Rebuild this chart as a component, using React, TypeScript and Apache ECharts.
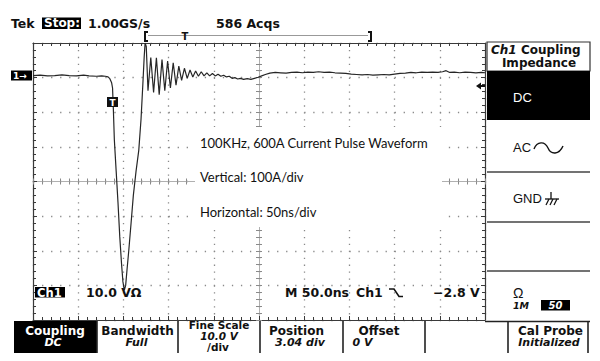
import React, { useEffect, useRef } from "react";
import * as echarts from "echarts";

// Time (ns from left edge of screen, 50 ns/div) and current (A, 100 A/div, screen centre = 0)
const timeNs = [
  0, 8, 16, 24, 32, 40, 48, 56, 62, 70, 76, 80, 83, 85, 87, 88, 89, 90, 92, 94, 96, 98, 99.5, 101,
  102.5, 104, 106, 108.5, 111, 114, 117, 119.5, 121.5, 123, 124, 125.3,
  127.2, 130.3, 133.4, 136.5, 139.6, 142.7, 145.8, 148.9, 152.0, 155.1, 158.2, 161.3, 164.4, 167.5,
  170.6, 173.7, 176.8, 179.9, 183.0, 186.1, 189.2, 192.3, 195.4, 198.5, 201.6, 204.7, 207.8, 210.9,
  214.0, 217.1, 220.2, 223.3, 226.4, 229.5, 233, 237, 241, 245, 249, 253, 257, 262, 268, 274, 280,
  286, 292, 298, 304, 310, 316, 322, 328, 334, 340, 346, 352, 358, 364, 370, 376, 382, 388, 394,
  400, 406, 412, 418, 424, 430, 436, 442, 448, 453, 457, 461, 466, 472, 478, 484, 490, 496, 500,
];
const currentA = [
  306, 307, 305, 306, 308, 306, 305, 307, 305, 304, 305, 304, 302, 297, 285, 270, 200, 120, 30, -60,
  -160, -240, -290, -314, -300, -255, -198, -120, -40, 30, 90, 180, 280, 360, 400, 390,
  262, 358, 257, 357, 251, 352, 262, 348, 270, 343, 278, 333, 292, 327,
  298, 322, 302, 319, 304, 317, 305, 314, 305, 312, 305, 310, 304, 307,
  302, 304, 298, 300, 296, 298, 295, 297, 295, 298, 301, 305, 309, 313, 315, 314, 313,
  315, 316, 314, 316, 315, 317, 315, 316, 314, 313, 312, 310, 309, 308, 309, 307, 308, 309, 308,
  310, 312, 313, 315, 314, 316, 315, 316, 315, 317, 320, 315, 316, 314, 316, 315, 314, 315, 314,
];

const headerTexts = ["Tek", "Stop:", "1.00GS/s", "586 Acqs"];
const noteTexts = ["100KHz, 600A Current Pulse Waveform", "Vertical: 100A/div", "Horizontal: 50ns/div"];
const statusTexts = ["Ch1", "10.0 VΩ", "M 50.0ns", "Ch1", "\u22122.8 V"];
const sideTexts = ["Ch1", "Coupling", "Impedance", "DC", "AC", "GND", "Ω", "1M", "50"];
const menuLabels = ["Coupling", "Bandwidth", "Fine Scale", "Position", "Offset", "", "Cal Probe"];
const menuValues = ["DC", "Full", "10.0 V", "3.04 div", "0 V", "", "Initialized"];

const DJ = '"DejaVu Sans", sans-serif';
const B13 = `bold 12.5px ${DJ}`;

function txt(text: string, x: number, y: number, font: string, fill = "#111", align = "left") {
  return {
    type: "text",
    x,
    y,
    z: 100,
    silent: true,
    style: { text, font, fill, textAlign: align, align, textVerticalAlign: "middle", verticalAlign: "middle" },
  };
}
function rect(x: number, y: number, w: number, h: number, fill = "#000", stroke?: string, z = 90) {
  return {
    type: "rect",
    z,
    shape: { x, y, width: w, height: h },
    style: stroke ? { fill, stroke, lineWidth: 1.2 } : { fill },
  };
}
function ln(x1: number, y1: number, x2: number, y2: number, color = "#222", w = 1.4) {
  return { type: "line", z: 95, shape: { x1, y1, x2, y2 }, style: { stroke: color, lineWidth: w } };
}
function pl(points: number[][], w = 1.6, color = "#111") {
  return { type: "polyline", z: 95, shape: { points }, style: { stroke: color, lineWidth: w, fill: null } };
}

const BORDER = "#3a3a3a";
const DOT = "#8a8a8a";

function xAx(extra: any) {
  return {
    type: "value",
    min: 0,
    max: 500,
    interval: 50,
    axisLabel: { show: false },
    splitLine: { show: false },
    axisLine: { show: true, onZero: false, lineStyle: { color: BORDER, width: 1.2 } },
    axisTick: { show: true, inside: true, length: 4, lineStyle: { color: BORDER } },
    minorTick: { show: true, splitNumber: 5, length: 3, lineStyle: { color: BORDER } },
    minorSplitLine: { show: false },
    ...extra,
  };
}
function yAx(extra: any) {
  return {
    type: "value",
    min: -400,
    max: 400,
    interval: 100,
    axisLabel: { show: false },
    splitLine: { show: false },
    axisLine: { show: true, onZero: false, lineStyle: { color: BORDER, width: 1.2 } },
    axisTick: { show: true, inside: true, length: 4, lineStyle: { color: BORDER } },
    minorTick: { show: true, splitNumber: 5, length: 3, lineStyle: { color: BORDER } },
    minorSplitLine: { show: false },
    ...extra,
  };
}

const centerLine = { show: true, lineStyle: { color: "#b0b0b0", width: 1 } };
const centerTick = { show: true, length: 3, lineStyle: { color: "#8a8a8a" } };

export default function App() {
  const ref = useRef<HTMLDivElement>(null);
  useEffect(() => {
    document.body.style.margin = "0";
    const chart = echarts.init(ref.current!, undefined, { renderer: "svg" });
    const data = timeNs.map((t, i) => [t, currentA[i]]);

    const g: any[] = [];
    // header
    g.push(txt(headerTexts[0], 11, 23, B13));
    g.push(rect(42, 17.5, 39, 11.5));
    g.push(txt(headerTexts[1], 44, 23, `bold 12px ${DJ}`, "#fff"));
    g.push(txt(headerTexts[2], 88, 23, B13));
    g.push(txt(headerTexts[3], 216, 23, B13));
    // record bar
    g.push(pl([[148, 32], [145, 32], [145, 41], [148, 41]], 2));
    g.push(ln(148, 35.5, 368, 35.5, "#999", 1.2));
    g.push(txt("T", 185, 36, `bold 10px ${DJ}`, "#111", "center"));
    g.push(pl([[368, 32], [371, 32], [371, 41], [368, 41]], 2));
    // channel marker
    g.push(rect(11, 70.5, 21, 10));
    g.push(txt("1→", 13, 75.5, `bold 9px ${DJ}`, "#fff"));
    // trigger level arrow
    g.push({ type: "polygon", z: 95, shape: { points: [[476, 86], [481, 82.5], [481, 89.5]] }, style: { fill: "#111" } });
    g.push(ln(480, 86, 485, 86, "#111", 2));
    // trigger marker on trace
    g.push(rect(107, 97, 11, 10, "#111"));
    g.push(txt("T", 112.5, 102.5, `bold 9px ${DJ}`, "#fff", "center"));
    // notes on a white patch (hides the graticule behind)
    g.push(rect(195, 127, 247, 100, "#fff", undefined, 20));
    const NF = '13px Lato, "Open Sans", sans-serif';
    g.push(txt(noteTexts[0], 200, 143, NF));
    g.push(txt(noteTexts[1], 200, 177, NF));
    g.push(txt(noteTexts[2], 200, 212, NF));
    // status line
    g.push(rect(35, 287, 30, 10.5));
    g.push(txt(statusTexts[0], 37, 292.5, `bold 11.5px ${DJ}`, "#fff"));
    g.push(txt(statusTexts[1], 86, 292.5, B13));
    g.push(txt(statusTexts[2], 285, 292.5, B13));
    g.push(txt(statusTexts[3], 356, 292.5, B13));
    g.push(pl([[389, 289], [394, 289], [399, 296.5], [403, 296.5]], 1.6));
    g.push(txt(statusTexts[4], 433, 292.5, B13));
    // side menu
    g.push(rect(487, 42, 103, 29, "#fff", "#333"));
    const SF = `bold 12px ${DJ}`;
    g.push(txt(sideTexts[0], 491, 49.5, `italic bold 12px ${DJ}`));
    g.push(txt(sideTexts[1], 521, 49.5, SF));
    g.push(txt(sideTexts[2], 539, 62.5, SF, "#111", "center"));
    g.push(rect(487, 71, 103, 49));
    const LF = '13px "Liberation Sans", Arial, sans-serif';
    g.push(txt(sideTexts[3], 513, 97.5, LF, "#fff"));
    g.push(txt(sideTexts[4], 513, 147.5, LF));
    g.push({ type: "bezierCurve", z: 95, shape: { x1: 534, y1: 149, cpx1: 537, cpy1: 141, cpx2: 545, cpy2: 141, x2: 548, y2: 148 }, style: { stroke: "#111", lineWidth: 1.4, fill: null } });
    g.push({ type: "bezierCurve", z: 95, shape: { x1: 548, y1: 148, cpx1: 551, cpy1: 155, cpx2: 559, cpy2: 155, x2: 563, y2: 146 }, style: { stroke: "#111", lineWidth: 1.4, fill: null } });
    g.push(ln(487, 172, 590, 172, "#444", 1.3));
    g.push(txt(sideTexts[5], 513, 198, LF));
    g.push(ln(551, 192, 551, 199, "#111", 1.3));
    g.push(ln(545, 199, 559, 199, "#111", 1.3));
    g.push(ln(546, 205, 549, 199, "#111", 1.2));
    g.push(ln(550, 205, 553, 199, "#111", 1.2));
    g.push(ln(554, 205, 557, 199, "#111", 1.2));
    g.push(ln(487, 222, 590, 222, "#444", 1.3));
    g.push(ln(487, 271, 590, 271, "#444", 1.3));
    g.push(txt(sideTexts[6], 513, 293, '14px "Liberation Sans", Arial, sans-serif'));
    g.push(txt(sideTexts[7], 513, 305, `italic bold 9.5px ${DJ}`));
    g.push(rect(541, 300, 29, 10.5));
    g.push(txt(sideTexts[8], 555.5, 305.5, `italic bold 10px ${DJ}`, "#fff", "center"));
    // bottom menu
    g.push(ln(485, 321.5, 590, 321.5, "#222", 1.4));
    g.push(rect(14, 321, 83, 32));
    [97, 178, 260, 343, 425, 508, 588].forEach((x) => g.push(ln(x, 321, x, 353, "#222", 1.6)));
    const ML = `bold 12px ${DJ}`;
    const MV = `italic bold 11px ${DJ}`;
    const MS = `bold 10.5px ${DJ}`;
    const MSV = `italic bold 10.5px ${DJ}`;
    const labelCx = [55, 137.5, 219, 296.5, 379, 466, 550.5];
    const valueCx = [53, 136.5, 219, 300, 362.5, 466, 549];
    menuLabels.forEach((s, i) => {
      if (!s) return;
      const fill = i === 0 ? "#fff" : "#111";
      if (i === 2) {
        g.push(txt(s, labelCx[i], 325, MS, fill, "center"));
        g.push(txt(menuValues[i], valueCx[i], 336, MSV, fill, "center"));
        g.push(txt("/div", 218, 347, MS, fill, "center"));
      } else {
        g.push(txt(s, labelCx[i], 330.5, ML, fill, "center"));
        g.push(txt(menuValues[i], valueCx[i], 342.5, MV, fill, "center"));
      }
    });

    chart.setOption({
      animation: false,
      backgroundColor: "#fff",
      grid: { left: 33, top: 43, width: 452, height: 277, show: false },
      xAxis: [
        xAx({
          position: "bottom",
          splitLine: { show: true, lineStyle: { color: DOT, width: 1.3, type: [1.3, 5.625] } },
        }),
        xAx({ position: "top" }),
        xAx({
          position: "bottom",
          axisLine: { ...centerLine, onZero: true, onZeroAxisIndex: 0 },
          axisTick: { ...centerTick, inside: true },
          minorTick: { ...centerTick, inside: true, splitNumber: 5 },
        }),
        xAx({
          position: "bottom",
          axisLine: { ...centerLine, onZero: true, onZeroAxisIndex: 0 },
          axisTick: { ...centerTick, inside: false },
          minorTick: { ...centerTick, inside: false, splitNumber: 5 },
        }),
      ],
      yAxis: [
        yAx({
          position: "left",
          splitLine: { show: true, lineStyle: { color: DOT, width: 1.3, type: [1.3, 7.74] } },
        }),
        yAx({ position: "right" }),
        yAx({
          position: "left",
          offset: -226,
          axisLine: { ...centerLine, onZero: false },
          axisTick: { ...centerTick, inside: true },
          minorTick: { ...centerTick, inside: true, splitNumber: 5 },
        }),
        yAx({
          position: "left",
          offset: -226,
          axisLine: { ...centerLine, onZero: false },
          axisTick: { ...centerTick, inside: false },
          minorTick: { ...centerTick, inside: false, splitNumber: 5 },
        }),
      ],
      series: [
        {
          type: "line",
          xAxisIndex: 0,
          yAxisIndex: 0,
          data,
          symbol: "none",
          showSymbol: false,
          clip: true,
          z: 5,
          lineStyle: { color: "#262626", width: 1.2 },
        },
      ],
      graphic: { elements: g },
    });
    return () => chart.dispose();
  }, []);
  return <div ref={ref} style={{ position: "absolute", left: 0, top: 0, width: 600, height: 361 }} />;
}
